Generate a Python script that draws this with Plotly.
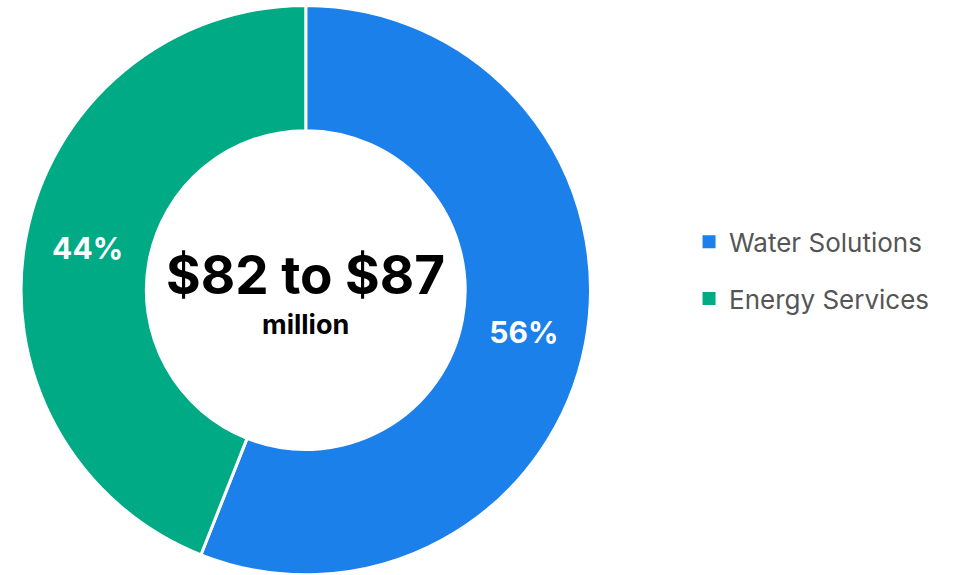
import plotly.graph_objects as go

segments = ["Water Solutions", "Energy Services"]
shares = [56, 44]
colors = ["#1b80e9", "#00aa84"]
total_label = "$82 to $87"
unit_label = "million"

fig = go.Figure()
fig.add_trace(
    go.Pie(
        labels=segments,
        values=shares,
        hole=0.56,
        sort=False,
        direction="clockwise",
        rotation=0,
        marker=dict(colors=colors, line=dict(color="white", width=3)),
        texttemplate="<b>%{value}%</b>",
        textposition="inside",
        insidetextorientation="horizontal",
        textfont=dict(family="Inter", size=30, color="white"),
        domain=dict(x=[0.022, 0.617], y=[0.0, 0.991]),
        hoverinfo="label+percent",
        showlegend=False,
    )
)

# Legend entries with square swatches, one group each so the gap can be set
for name, col in zip(segments, colors):
    fig.add_trace(
        go.Scatter(
            x=[None], y=[None], mode="markers", name=name, legendgroup=name,
            marker=dict(symbol="square", size=13, color=col),
        )
    )

fig.add_annotation(
    text=f"<b>{total_label}</b>", x=0.3195, y=0.522, xref="paper", yref="paper",
    xanchor="center", yanchor="middle",
    showarrow=False, font=dict(family="Inter", size=53, color="black"),
)
fig.add_annotation(
    text=f"<b>{unit_label}</b>", x=0.3195, y=0.435, xref="paper", yref="paper",
    xanchor="center", yanchor="middle",
    showarrow=False, font=dict(family="Inter", size=27, color="black"),
)

fig.update_layout(
    width=957, height=575,
    margin=dict(l=0, r=0, t=0, b=0),
    paper_bgcolor="white", plot_bgcolor="white",
    xaxis=dict(visible=False), yaxis=dict(visible=False),
    showlegend=True,
    legend=dict(
        x=0.72, y=0.53, xanchor="left", yanchor="middle",
        tracegroupgap=20, itemwidth=30,
        font=dict(family="Inter", size=26, color="#555555"),
    ),
)

fig.write_html("out.html")
